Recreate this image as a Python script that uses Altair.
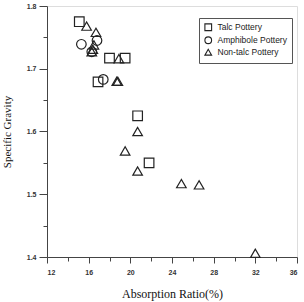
import altair as alt
import pandas as pd

# Absorption ratio (%) and specific gravity of pottery sherds, by body type
talc_x = [15.1, 18.0, 19.5, 16.9, 20.7, 21.8]
talc_y = [1.775, 1.717, 1.717, 1.679, 1.625, 1.550]

amph_x = [15.3, 16.8, 17.4, 16.3]
amph_y = [1.739, 1.745, 1.683, 1.727]

nontalc_x = [15.8, 16.7, 16.5, 16.3, 16.4, 18.9, 18.7, 18.8, 20.7, 19.5, 20.7, 24.9, 26.6, 32.0]
nontalc_y = [1.768, 1.758, 1.738, 1.727, 1.731, 1.716, 1.680, 1.680, 1.600, 1.569, 1.537, 1.517, 1.515, 1.406]

groups = ["Talc Pottery", "Amphibole Pottery", "Non-talc Pottery"]
shapes = ["square", "circle", "triangle-up"]

x_ticks = list(range(12, 37, 2))
y_ticks = [round(1.40 + 0.05 * i, 2) for i in range(9)]

rows = []
for g, xs, ys in zip(groups, [talc_x, amph_x, nontalc_x], [talc_y, amph_y, nontalc_y]):
    for a, b in zip(xs, ys):
        rows.append({"absorption": a, "gravity": b, "type": g})
df = pd.DataFrame(rows)

axis_color = "#444444"
major_y = "abs(datum.value * 10 - round(datum.value * 10)) < 0.001"

chart = (
    alt.Chart(df)
    .mark_point(filled=False, strokeWidth=1.2, color="#222222", opacity=1, size=92)
    .encode(
        x=alt.X(
            "absorption:Q",
            scale=alt.Scale(domain=[12, 36], nice=False, zero=False),
            axis=alt.Axis(
                values=x_ticks,
                title="Absorption Ratio(%)",
                titleFont="Liberation Serif",
                titleFontSize=12,
                titleFontWeight="normal",
                titleColor="#111111",
                titlePadding=13,
                labelExpr="datum.value % 4 == 0 ? datum.label : ''",
                labelFont="Liberation Sans",
                labelFontSize=7,
                labelFontWeight="bold",
                labelColor="#333333",
                labelPadding=5,
                tickSize={"condition": {"test": "datum.value % 4 == 0", "value": 6}, "value": 4},
                tickColor=axis_color,
                domainColor=axis_color,
                grid=False,
            ),
        ),
        y=alt.Y(
            "gravity:Q",
            scale=alt.Scale(domain=[1.4, 1.8], nice=False, zero=False),
            axis=alt.Axis(
                values=y_ticks,
                title="Specific Gravity",
                titleFont="Liberation Serif",
                titleFontSize=11,
                titleFontWeight="normal",
                titleColor="#111111",
                titlePadding=14,
                format=".1f",
                labelExpr=f"{major_y} ? datum.label : ''",
                labelFont="Liberation Sans",
                labelFontSize=7,
                labelFontWeight="bold",
                labelColor="#333333",
                labelPadding=3,
                tickSize={"condition": {"test": major_y, "value": 8}, "value": 4},
                tickColor=axis_color,
                domainColor=axis_color,
                grid=False,
            ),
        ),
        shape=alt.Shape(
            "type:N",
            scale=alt.Scale(domain=groups, range=shapes),
            legend=alt.Legend(
                title=None,
                orient="none",
                legendX=152,
                legendY=12,
                labelFont="Liberation Sans",
                labelFontSize=8.5,
                labelColor="#222222",
                symbolSize=45,
                symbolStrokeColor="#222222",
                symbolStrokeWidth=1.1,
                rowPadding=1,
                strokeColor="#555555",
                padding=5,
                labelOffset=5,
            ),
        ),
    )
    .properties(
        width=250,
        height=251,
        autosize=alt.AutoSizeParams(type="none"),
        padding={"left": 47, "top": 6, "right": 7, "bottom": 45},
    )
    .configure_view(stroke=axis_color, strokeWidth=1)
    .configure(background="white")
)

chart.save("out.html", embed_options={"renderer": "svg", "actions": False})
